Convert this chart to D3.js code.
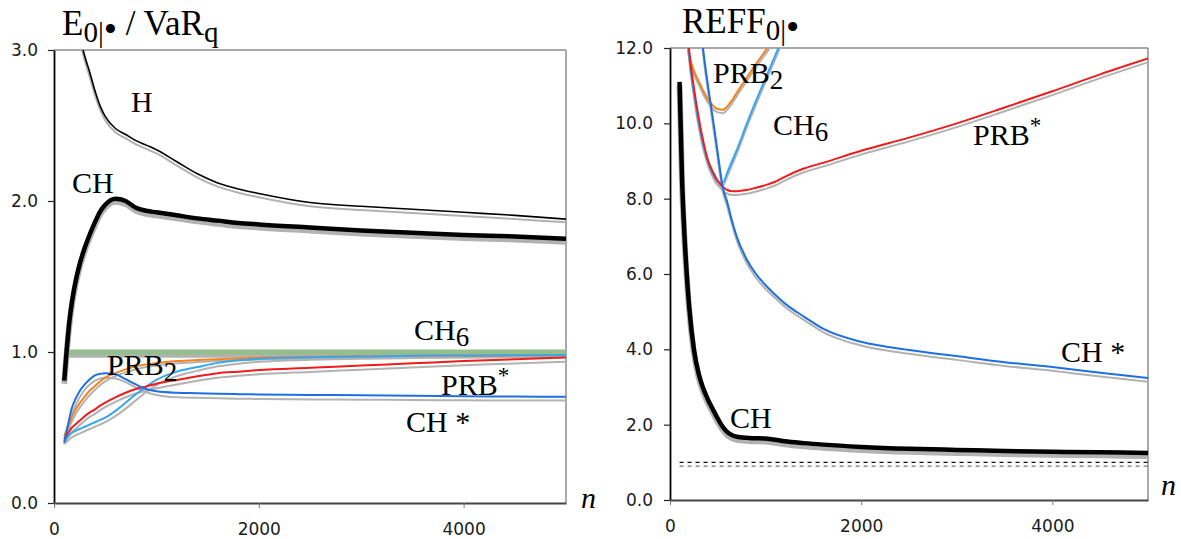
<!DOCTYPE html>
<html><head><meta charset="utf-8">
<script src="https://cdn.jsdelivr.net/npm/d3@7"></script>
<style>body{margin:0;background:#fff}svg{display:block}</style>
</head><body>
<svg id="c" width="1181" height="539"></svg>
<script>
// ---------- DATA ----------
const nLeft = [100,125,150,175,200,250,300,350,400,450,500,600,700,800,900,1000,1200,1400,1600,1800,2000,2500,3000,3500,4000,4500,5000];
const leftH      = [4.2,3.9,3.65,3.45,3.3,3.1,2.96,2.85,2.73,2.63,2.56,2.48,2.44,2.40,2.37,2.34,2.26,2.18,2.12,2.08,2.05,1.99,1.965,1.945,1.925,1.905,1.88];
const leftHGray  = [4.17,3.87,3.62,3.42,3.27,3.07,2.93,2.82,2.70,2.605,2.535,2.455,2.415,2.375,2.345,2.315,2.235,2.155,2.095,2.055,2.025,1.965,1.94,1.92,1.9,1.88,1.86];
const leftCH     = [0.81,1.02,1.2,1.33,1.43,1.58,1.69,1.78,1.86,1.93,1.975,2.015,2.0,1.955,1.935,1.925,1.905,1.885,1.87,1.855,1.845,1.825,1.805,1.79,1.775,1.765,1.75];
const leftCHGray = [0.79,1.0,1.18,1.31,1.41,1.56,1.67,1.76,1.84,1.91,1.955,1.995,1.98,1.935,1.915,1.905,1.885,1.865,1.85,1.835,1.825,1.805,1.785,1.77,1.755,1.745,1.73];
const leftRef     = [1,1,1,1,1,1,1,1,1,1,1,1,1,1,1,1,1,1,1,1,1,1,1,1,1,1,1];
const leftRefGray = [0.975,0.975,0.975,0.975,0.975,0.975,0.975,0.975,0.975,0.975,0.975,0.975,0.975,0.975,0.975,0.975,0.975,0.975,0.975,0.975,0.975,0.975,0.975,0.975,0.975,0.975,0.975];
const leftCHstar     = [0.40,0.48,0.56,0.63,0.675,0.74,0.785,0.82,0.845,0.855,0.86,0.852,0.82,0.785,0.755,0.74,0.73,0.727,0.724,0.721,0.719,0.716,0.713,0.71,0.707,0.705,0.703];
const leftCHstarGray = [0.39,0.45,0.52,0.58,0.63,0.70,0.75,0.785,0.81,0.825,0.83,0.825,0.80,0.765,0.735,0.715,0.70,0.697,0.694,0.691,0.689,0.686,0.684,0.682,0.68,0.679,0.678];
const leftPRB2     = [0.44,0.49,0.53,0.57,0.605,0.66,0.705,0.745,0.775,0.805,0.83,0.86,0.885,0.905,0.918,0.927,0.94,0.947,0.952,0.957,0.962,0.968,0.972,0.975,0.977,0.978,0.98];
const leftPRB2Gray = [0.42,0.46,0.50,0.54,0.575,0.63,0.675,0.715,0.75,0.78,0.805,0.84,0.865,0.885,0.9,0.91,0.925,0.933,0.94,0.945,0.95,0.956,0.96,0.963,0.966,0.968,0.97];
const leftPRBstar     = [0.42,0.45,0.475,0.50,0.515,0.545,0.575,0.60,0.62,0.645,0.665,0.70,0.73,0.755,0.772,0.79,0.815,0.84,0.86,0.87,0.88,0.895,0.91,0.925,0.94,0.952,0.963];
const leftPRBstarGray = [0.40,0.425,0.45,0.47,0.485,0.515,0.545,0.57,0.59,0.615,0.635,0.67,0.70,0.725,0.742,0.76,0.785,0.81,0.83,0.842,0.852,0.868,0.883,0.898,0.912,0.924,0.935];
const leftCH6     = [0.41,0.43,0.45,0.465,0.475,0.49,0.505,0.52,0.535,0.55,0.565,0.61,0.665,0.72,0.77,0.815,0.87,0.90,0.928,0.945,0.955,0.965,0.97,0.975,0.977,0.978,0.98];
const leftCH6Gray = [0.39,0.405,0.42,0.435,0.445,0.46,0.475,0.49,0.505,0.52,0.535,0.575,0.625,0.68,0.735,0.78,0.84,0.875,0.905,0.922,0.935,0.948,0.955,0.96,0.963,0.965,0.967];

const nRight = [100,125,150,175,200,250,300,350,400,450,500,550,600,650,700,800,900,1000,1100,1200,1400,1600,2000,2500,3000,3500,4000,4500,5000];
const rightCH     = [11.1,8.6,7.1,6.0,5.15,4.0,3.35,2.95,2.65,2.4,2.16,1.95,1.8,1.72,1.68,1.65,1.64,1.63,1.6,1.56,1.51,1.47,1.41,1.36,1.33,1.3,1.28,1.265,1.25];
const rightCHGray = [11.0,8.5,7.0,5.9,5.05,3.9,3.25,2.85,2.56,2.31,2.07,1.87,1.72,1.64,1.6,1.57,1.56,1.55,1.52,1.48,1.43,1.39,1.33,1.28,1.25,1.22,1.2,1.185,1.17];
const rightCHstar     = [null,null,null,null,null,14.8,13.1,11.9,10.95,10.1,9.2,8.33,7.9,7.4,6.98,6.4,6.0,5.7,5.45,5.22,4.87,4.55,4.2,3.98,3.82,3.66,3.53,3.38,3.24];
const rightCHstarGray = [null,null,null,null,null,14.6,12.95,11.75,10.8,9.95,9.05,8.2,7.78,7.3,6.88,6.3,5.9,5.6,5.36,5.13,4.78,4.46,4.1,3.88,3.72,3.56,3.43,3.28,3.14];
const rightPRBstar     = [17,15.3,13.8,12.8,11.95,10.95,10.15,9.5,9.0,8.7,8.47,8.32,8.23,8.2,8.2,8.23,8.29,8.36,8.45,8.58,8.8,8.95,9.27,9.62,10.0,10.42,10.85,11.3,11.72];
const rightPRBstarGray = [16.9,15.2,13.7,12.7,11.85,10.85,10.05,9.4,8.9,8.6,8.37,8.22,8.13,8.1,8.1,8.13,8.19,8.26,8.35,8.48,8.7,8.85,9.17,9.52,9.9,10.32,10.75,11.2,11.62];
const rightPRB2     = [16.5,14.5,13.0,12.3,11.85,11.4,11.12,10.85,10.63,10.47,10.38,10.36,10.45,10.62,10.82,11.2,11.58,11.93,12.3,12.7,null,null,null,null,null,null,null,null,null];
const rightPRB2Gray = [16.4,14.4,12.9,12.2,11.76,11.31,11.03,10.76,10.54,10.38,10.29,10.27,10.36,10.53,10.73,11.11,11.49,11.84,12.2,12.6,null,null,null,null,null,null,null,null,null];
const rightCH6     = [17,15.3,13.6,12.6,11.8,10.8,10.0,9.4,8.95,8.65,8.45,8.42,8.7,9.0,9.3,9.97,10.6,11.2,11.8,12.4,null,null,null,null,null,null,null,null,null];
const rightCH6Gray = [16.9,15.2,13.5,12.5,11.7,10.7,9.9,9.3,8.86,8.56,8.36,8.33,8.6,8.9,9.2,9.87,10.5,11.1,11.7,12.3,null,null,null,null,null,null,null,null,null];
const rightRefN = [100,5000];
const rightRefBlack = [1.0,1.0];
const rightRefGray  = [0.9,0.9];

const leftYTicks = [0,1,2,3];
const rightYTicks = [0,2,4,6,8,10,12];
const xTicks = [0,2000,4000];

// ---------- DRAW ----------
const svg = d3.select("#c");
const SERIF = "'Liberation Serif','Times New Roman',serif";
const SANS = "'DejaVu Sans',Verdana,sans-serif";
const GRAY = "#b2b2b2";

function panel(cfg) {
  const x = d3.scaleLinear().domain([0,5000]).range([cfg.x0, cfg.x1]);
  const y = d3.scaleLinear().domain([0,cfg.ymax]).range([cfg.y0, cfg.y1]);
  const g = svg.append("g");
  const clipId = "clip" + cfg.id;
  svg.append("clipPath").attr("id", clipId).append("rect")
    .attr("x", cfg.x0).attr("y", cfg.y1).attr("width", cfg.x1-cfg.x0).attr("height", cfg.y0-cfg.y1);

  g.append("line").attr("x1", cfg.x0).attr("x2", cfg.x1).attr("y1", cfg.y1).attr("y2", cfg.y1).attr("stroke", "#8c8c8c").attr("stroke-width", 1.5);
  g.append("line").attr("x1", cfg.x1).attr("x2", cfg.x1).attr("y1", cfg.y1).attr("y2", cfg.y0).attr("stroke", "#8c8c8c").attr("stroke-width", 1.5);

  const plot = g.append("g").attr("clip-path", `url(#${clipId})`);
  const line = d3.line().defined(d => d[1] != null).x(d => x(d[0])).y(d => y(d[1])).curve(d3.curveMonotoneX);
  cfg.series.forEach(s => {
    const pts = s.n.map((n,i) => [n, s.v[i]]);
    const p = plot.append("path").attr("d", line(pts)).attr("fill", "none")
      .attr("stroke", s.color).attr("stroke-width", s.w)
      .attr("stroke-linejoin", "round").attr("stroke-linecap", "butt");
    if (s.dash) p.attr("stroke-dasharray", s.dash);
  });

  const ya = g.append("g").attr("transform", `translate(${cfg.x0},0)`)
    .call(d3.axisLeft(y).tickValues(cfg.yticks).tickFormat(d3.format(".1f")).tickSize(6).tickSizeOuter(0).tickPadding(cfg.ypad));
  ya.select(".domain").attr("stroke", "#000").attr("stroke-width", 1.8);
  ya.selectAll(".tick line").attr("stroke", "#222").attr("stroke-width", 1.2);
  ya.selectAll("text").attr("font-family", SANS).attr("font-size", 17).attr("fill", "#1a1a1a");

  const xa = g.append("g").attr("transform", `translate(0,${cfg.y0})`)
    .call(d3.axisBottom(x).tickValues(xTicks).tickFormat(d3.format("d")).tickSize(5).tickSizeOuter(0).tickPadding(15));
  xa.select(".domain").attr("stroke", "#444").attr("stroke-width", 1.8);
  xa.selectAll(".tick line").attr("stroke", "#777").attr("stroke-width", 1);
  xa.selectAll("text").attr("font-family", SANS).attr("font-size", 17).attr("fill", "#1a1a1a");
  return {x, y, g};
}

function S(n, v, color, w, dash) { return {n, v, color, w, dash}; }

panel({
  id: "L", x0: 54, x1: 566, y0: 503, y1: 50, ymax: 3, yticks: leftYTicks, ypad: 10,
  series: [
    S(nLeft, leftHGray, GRAY, 2),
    S(nLeft, leftCHGray, GRAY, 6),
    S(nLeft, leftRefGray, GRAY, 4),
    S(nLeft, leftCHstarGray, GRAY, 2),
    S(nLeft, leftPRB2Gray, GRAY, 2),
    S(nLeft, leftPRBstarGray, GRAY, 2),
    S(nLeft, leftCH6Gray, GRAY, 2),
    S(nLeft, leftRef, "#93bf8b", 5),
    S(nLeft, leftPRB2, "#f5821f", 2),
    S(nLeft, leftCH6, "#35a7ee", 2),
    S(nLeft, leftPRBstar, "#ee1c1c", 2),
    S(nLeft, leftCHstar, "#1d6fe3", 2),
    S(nLeft, leftH, "#000", 1.6),
    S(nLeft, leftCH, "#000", 4.5)
  ]
});

panel({
  id: "R", x0: 670, x1: 1148, y0: 500, y1: 48, ymax: 12, yticks: rightYTicks, ypad: 11,
  series: [
    S(rightRefN, rightRefGray, "#777", 1.3, "4,4"),
    S(rightRefN, rightRefBlack, "#111", 1.3, "4,4"),
    S(nRight, rightCHGray, GRAY, 6),
    S(nRight, rightCHstarGray, GRAY, 2),
    S(nRight, rightPRBstarGray, GRAY, 2),
    S(nRight, rightPRB2Gray, GRAY, 2),
    S(nRight, rightCH6Gray, GRAY, 2),
    S(nRight, rightPRB2, "#f5821f", 2),
    S(nRight, rightCH6, "#35a7ee", 2),
    S(nRight, rightPRBstar, "#ee1c1c", 2),
    S(nRight, rightCHstar, "#1d6fe3", 2),
    S(nRight, rightCH, "#000", 4.5)
  ]
});

// ---------- TEXT ----------
function label(x, y, parts, size) {
  const t = svg.append("text").attr("x", x).attr("y", y).attr("font-family", SERIF)
    .attr("font-size", size || 30).attr("fill", "#000").style("white-space", "pre");
  parts.forEach(p => {
    const ts = t.append("tspan").text(p.t);
    if (p.s) ts.attr("font-size", p.s);
    if (p.dy) ts.attr("dy", p.dy);
    if (p.i) ts.attr("font-style", "italic");
  });
  return t;
}

// titles
label(62, 35, [{t:"E"},{t:"0|", s:29, dy:7},{t:"•", s:38, dy:0},{t:" / VaR", dy:-7},{t:"q", s:29, dy:7}], 35);
label(682, 33, [{t:"REFF"},{t:"0|", s:29, dy:7},{t:"•", s:38}], 35);

// left curve labels
label(131, 112, [{t:"H"}]);
label(72, 193, [{t:"CH"}]);
label(414, 340, [{t:"CH"},{t:"6", s:27, dy:6}]);
label(107, 375, [{t:"PRB"},{t:"2", s:27, dy:6}]);
label(441, 395, [{t:"PRB"},{t:"*", s:23, dy:-12}]);
label(406, 432, [{t:"CH *"}]);
label(581, 508, [{t:"n", i:true}], 30);

// right curve labels
label(713, 83, [{t:"PRB"},{t:"2", s:27, dy:6}]);
label(773, 135, [{t:"CH"},{t:"6", s:27, dy:6}]);
label(973, 145, [{t:"PRB"},{t:"*", s:23, dy:-12}]);
label(1061, 362, [{t:"CH *"}]);
label(730, 428, [{t:"CH"}]);
label(1161, 495, [{t:"n", i:true}], 30);
</script>
</body></html>
